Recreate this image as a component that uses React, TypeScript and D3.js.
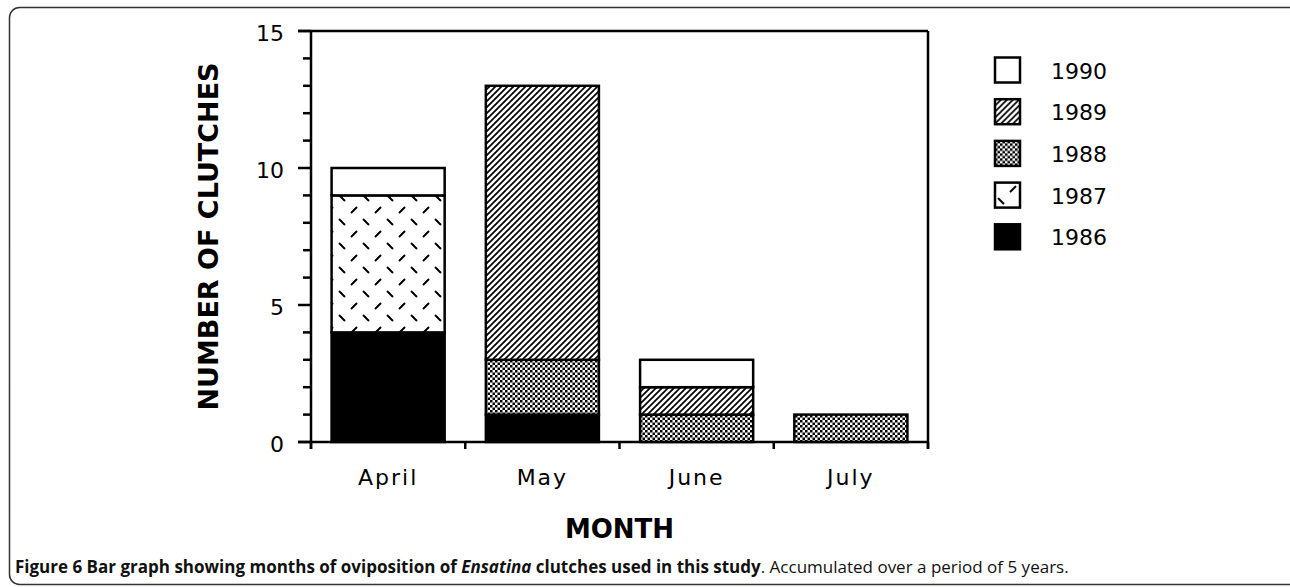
import React from "react";
import * as d3 from "d3";

// clutches per month, one array per year
const months = ["April", "May", "June", "July"];
const years = ["1986", "1987", "1988", "1989", "1990"];
const clutches1986 = [4, 1, 0, 0];
const clutches1987 = [5, 0, 0, 0];
const clutches1988 = [0, 2, 1, 1];
const clutches1989 = [0, 10, 1, 0];
const clutches1990 = [1, 0, 1, 0];
const yTicks = [0, 5, 10, 15];

const W = 1290;
const H = 587;
const plot = { left: 311, right: 928, top: 31, bottom: 442 };

const fills: Record<string, string> = {
  "1986": "#000",
  "1987": "url(#pat1987)",
  "1988": "url(#pat1988)",
  "1989": "url(#pat1989)",
  "1990": "#fff",
};

export default function App() {
  const byYear: Record<string, number[]> = {
    "1986": clutches1986,
    "1987": clutches1987,
    "1988": clutches1988,
    "1989": clutches1989,
    "1990": clutches1990,
  };
  const table = months.map((m, i) => {
    const row: any = { month: m };
    years.forEach((y) => (row[y] = byYear[y][i]));
    return row;
  });
  const series = d3.stack().keys(years)(table);

  const x = d3
    .scaleBand()
    .domain(months)
    .range([plot.left, plot.right])
    .paddingInner(0.267)
    .paddingOuter(0.1335);
  const y = d3.scaleLinear().domain([0, 15]).range([plot.bottom, plot.top]);
  const minor = d3.range(0, 16);
  const step = x.step();
  const bandEdges = d3.range(0, months.length + 1).map((i) => plot.left + i * step);

  const axisFont = "'DejaVu Sans', sans-serif";

  return (
    <div style={{ position: "absolute", left: 0, top: 0 }}>
      <svg width={W} height={H} style={{ display: "block", background: "#fff" }}>
        <defs>
          <pattern id="pat1989" patternUnits="userSpaceOnUse" width={6} height={6}>
            <rect width={6} height={6} fill="#fff" />
            <path d="M-1,1 L1,-1 M0,6 L6,0 M5,7 L7,5" stroke="#000" strokeWidth={1.7} />
          </pattern>
          <pattern id="pat1988" patternUnits="userSpaceOnUse" width={5} height={5}>
            <rect width={5} height={5} fill="#fff" />
            <rect width={2.5} height={2.5} fill="#000" />
            <rect x={2.5} y={2.5} width={2.5} height={2.5} fill="#000" />
          </pattern>
          <pattern id="pat1987" patternUnits="userSpaceOnUse" width={24} height={24}>
            <rect width={24} height={24} fill="#fff" />
            <path d="M3,3 L9,9 M21,15 L15,21" stroke="#000" strokeWidth={2} />
          </pattern>
        </defs>

        {/* outer rounded frame */}
        <rect x={9.5} y={7.5} width={1290} height={577} rx={10} fill="none" stroke="#333" strokeWidth={1.5} />

        {/* bars */}
        {series.map((s) => (
          <g key={s.key}>
            {s.map((d, i) =>
              d[1] - d[0] > 0 ? (
                <rect
                  key={i}
                  x={x(months[i])}
                  y={y(d[1])}
                  width={x.bandwidth()}
                  height={y(d[0]) - y(d[1])}
                  fill={fills[s.key]}
                  stroke="#000"
                  strokeWidth={2.5}
                />
              ) : null
            )}
          </g>
        ))}

        {/* frame */}
        <g stroke="#000" strokeWidth={2.5} fill="none">
          <line x1={298} x2={plot.right} y1={plot.top} y2={plot.top} />
          <line x1={298} x2={plot.right} y1={plot.bottom} y2={plot.bottom} />
          <line x1={plot.left} x2={plot.left} y1={plot.top} y2={plot.bottom + 7} />
          <line x1={plot.right} x2={plot.right} y1={plot.top} y2={plot.bottom + 7} />
          {minor.map((v) => (
            <line key={v} x1={yTicks.includes(v) ? 298 : 303} x2={plot.left} y1={y(v)} y2={y(v)} />
          ))}
          {bandEdges.map((e, i) => (
            <line key={i} x1={e} x2={e} y1={plot.bottom} y2={plot.bottom + 7} />
          ))}
        </g>

        {/* y tick labels */}
        {yTicks.map((v) => (
          <text
            key={v}
            x={284}
            y={y(v) + 2}
            textAnchor="end"
            dominantBaseline="central"
            fontFamily={axisFont}
            fontSize={22}
          >
            {v}
          </text>
        ))}

        {/* x labels */}
        {months.map((m) => (
          <text
            key={m}
            x={(x(m) as number) + x.bandwidth() / 2}
            y={485}
            textAnchor="middle"
            fontFamily={axisFont}
            fontSize={22}
            letterSpacing={2}
          >
            {m}
          </text>
        ))}

        <text
          x={(plot.left + plot.right) / 2}
          y={538}
          textAnchor="middle"
          fontFamily={axisFont}
          fontWeight="bold"
          fontSize={26}
        >
          MONTH
        </text>

        <text
          transform={`translate(218,${(plot.top + plot.bottom) / 2}) rotate(-90)`}
          textAnchor="middle"
          fontFamily={axisFont}
          fontWeight="bold"
          fontSize={27}
        >
          NUMBER OF CLUTCHES
        </text>

        {/* legend */}
        {years
          .slice()
          .reverse()
          .map((yr, i) => (
            <g key={yr} transform={`translate(995,${70 + i * 41.7})`}>
              <rect x={0} y={-12.5} width={25} height={25} fill={fills[yr]} stroke="#000" strokeWidth={2.5} />
              <text x={56} y={1} dominantBaseline="central" fontFamily={axisFont} fontSize={22}>
                {yr}
              </text>
            </g>
          ))}

        {/* caption */}
        <text x={15} y={573} fontFamily="'Open Sans', sans-serif" fontSize={17} fill="#111">
          <tspan fontWeight="bold">Figure 6 Bar graph showing months of oviposition of </tspan>
          <tspan fontWeight="bold" fontStyle="italic">Ensatina</tspan>
          <tspan fontWeight="bold"> clutches used in this study</tspan>
          <tspan>. Accumulated over a period of 5 years.</tspan>
        </text>
      </svg>
    </div>
  );
}
